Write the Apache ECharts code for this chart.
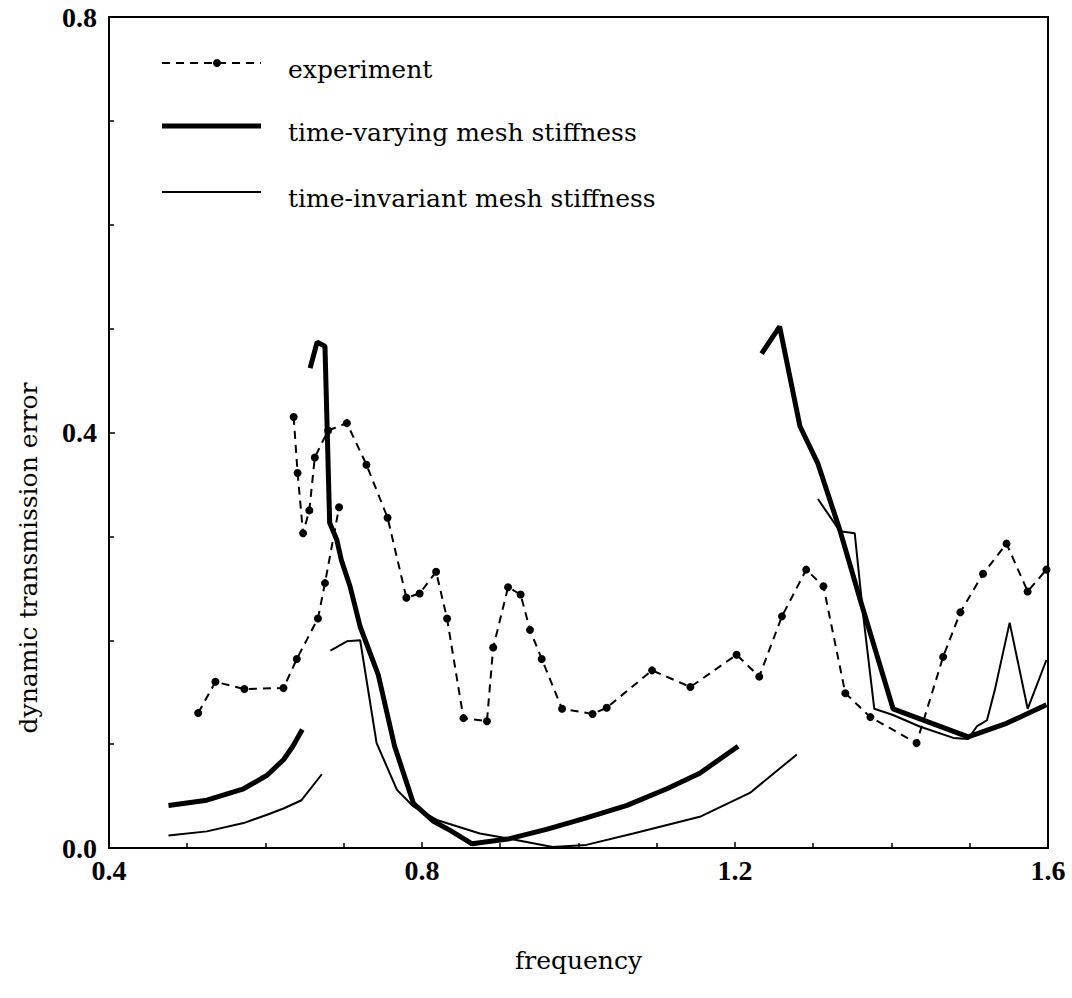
<!DOCTYPE html>
<html>
<head>
<meta charset="utf-8">
<script src="https://cdn.jsdelivr.net/npm/echarts@6/dist/echarts.min.js"></script>
<style>
html,body{margin:0;padding:0;background:#fff;}
#chart{width:1072px;height:998px;}
</style>
</head>
<body>
<div id="chart"></div>
<script>
// ---- data ----
const xTicks = [0.4, 0.8, 1.2, 1.6];
const yTicks = [0.0, 0.4, 0.8];

// experiment: lower sweep branch
const expLowX = [0.514, 0.536, 0.573, 0.623, 0.640, 0.667, 0.676, 0.694];
const expLowY = [0.130, 0.160, 0.153, 0.154, 0.182, 0.221, 0.255, 0.328];
// experiment: upper branch
const expHighX = [0.636, 0.641, 0.648, 0.656, 0.663, 0.680, 0.704, 0.729, 0.756, 0.780, 0.797, 0.818, 0.832,
  0.853, 0.883, 0.891, 0.910, 0.926, 0.938, 0.953, 0.979, 1.018, 1.036, 1.094, 1.143, 1.202, 1.231,
  1.260, 1.291, 1.313, 1.341, 1.373, 1.432, 1.466, 1.488, 1.517, 1.547, 1.574, 1.598];
const expHighY = [0.415, 0.361, 0.303, 0.325, 0.376, 0.402, 0.409, 0.369, 0.318, 0.241, 0.245, 0.266, 0.221,
  0.125, 0.122, 0.193, 0.251, 0.244, 0.210, 0.182, 0.134, 0.129, 0.135, 0.171, 0.155, 0.186, 0.165,
  0.223, 0.268, 0.252, 0.149, 0.126, 0.101, 0.184, 0.227, 0.264, 0.293, 0.247, 0.268];

// time-varying mesh stiffness (thick)
const tvX1 = [0.476, 0.525, 0.572, 0.602, 0.623, 0.635, 0.647];
const tvY1 = [0.041, 0.046, 0.057, 0.070, 0.085, 0.098, 0.114];
const tvX2 = [0.657, 0.666, 0.676, 0.682, 0.691, 0.697, 0.708, 0.721, 0.744, 0.765, 0.789, 0.814, 0.836,
  0.864, 0.912, 0.959, 1.010, 1.062, 1.113, 1.155, 1.204];
const tvY2 = [0.462, 0.487, 0.483, 0.313, 0.297, 0.277, 0.252, 0.213, 0.167, 0.098, 0.043, 0.026, 0.017,
  0.004, 0.009, 0.018, 0.029, 0.041, 0.057, 0.072, 0.098];
const tvX3 = [1.234, 1.257, 1.283, 1.306, 1.334, 1.360, 1.402, 1.498, 1.547, 1.598];
const tvY3 = [0.476, 0.502, 0.406, 0.370, 0.306, 0.239, 0.134, 0.107, 0.120, 0.138];

// time-invariant mesh stiffness (thin)
const tiX1 = [0.476, 0.525, 0.572, 0.602, 0.623, 0.646, 0.672];
const tiY1 = [0.012, 0.016, 0.024, 0.032, 0.038, 0.046, 0.071];
const tiX2 = [0.683, 0.704, 0.721, 0.742, 0.768, 0.789, 0.819, 0.874, 0.912, 0.967, 1.010, 1.070, 1.155, 1.219, 1.279];
const tiY2 = [0.190, 0.199, 0.200, 0.101, 0.056, 0.040, 0.027, 0.014, 0.009, 0.001, 0.003, 0.014, 0.030, 0.053, 0.090];
const tiX3 = [1.306, 1.334, 1.353, 1.364, 1.378, 1.402, 1.436, 1.479, 1.498, 1.509, 1.522, 1.532, 1.551, 1.574, 1.598];
const tiY3 = [0.336, 0.305, 0.303, 0.223, 0.134, 0.128, 0.117, 0.106, 0.105, 0.117, 0.123, 0.152, 0.217, 0.134, 0.181];

const names = ['experiment', 'time-varying mesh stiffness', 'time-invariant mesh stiffness'];

function pairs(xs, ys) { return xs.map((x, i) => [x, ys[i]]); }

const serif = 'Liberation Serif';
const textSerif = 'DejaVu Serif';

const expLine = { color: '#000', width: 2, type: [8, 6] };
const tvLine = { color: '#000', width: 5 };
const tiLine = { color: '#000', width: 2 };

const expStyle = {
  type: 'line', name: names[0], symbol: 'circle', symbolSize: 8, showSymbol: true,
  lineStyle: expLine, itemStyle: { color: '#000' }, z: 3, animation: false
};
const tvStyle = {
  type: 'line', name: names[1], symbol: 'none',
  lineStyle: tvLine, itemStyle: { color: '#000' }, z: 4, animation: false
};
const tiStyle = {
  type: 'line', name: names[2], symbol: 'none',
  lineStyle: tiLine, itemStyle: { color: '#000' }, z: 2, animation: false
};

// legend drawn by hand (key line + label per row)
const legendRows = [
  { y: 63, line: expLine, dot: true },
  { y: 126, line: tvLine, dot: false },
  { y: 192, line: tiLine, dot: false }
];
const legendGraphics = [];
legendRows.forEach((r, i) => {
  legendGraphics.push({
    type: 'line', shape: { x1: 162, y1: r.y, x2: 261, y2: r.y },
    style: { stroke: r.line.color, lineWidth: r.line.width, lineDash: Array.isArray(r.line.type) ? r.line.type : null }
  });
  if (r.dot) legendGraphics.push({ type: 'circle', shape: { cx: 217, cy: r.y, r: 4 }, style: { fill: '#000' } });
  legendGraphics.push({
    type: 'text', x: 288, y: r.y + 6,
    style: { text: names[i], fontSize: 25, fontFamily: textSerif, fill: '#000', align: 'left', verticalAlign: 'middle' }
  });
});

const chart = echarts.init(document.getElementById('chart'), null, { renderer: 'svg' });
chart.setOption({
  backgroundColor: '#fff',
  animation: false,
  grid: { left: 109, right: 24, top: 17, bottom: 150, show: true, borderColor: '#000', borderWidth: 2, backgroundColor: 'transparent' },
  xAxis: {
    type: 'value', min: xTicks[0], max: xTicks[xTicks.length - 1], interval: 0.4,
    name: 'frequency', nameLocation: 'middle', nameGap: 100,
    nameTextStyle: { fontSize: 25, fontFamily: textSerif, color: '#000' },
    axisLine: { lineStyle: { color: '#000', width: 2 } },
    axisTick: { inside: true, length: 6, lineStyle: { color: '#000', width: 1.5 } },
    minorTick: { show: true, splitNumber: 4, length: 5, lineStyle: { color: '#000', width: 1.5 } },
    splitLine: { show: false },
    axisLabel: { formatter: v => v.toFixed(1), fontSize: 28, fontWeight: 'bold', fontFamily: serif, color: '#000', margin: 8 }
  },
  yAxis: {
    type: 'value', min: yTicks[0], max: yTicks[yTicks.length - 1], interval: 0.4,
    axisLine: { lineStyle: { color: '#000', width: 2 } },
    axisTick: { inside: true, length: 6, lineStyle: { color: '#000', width: 1.5 } },
    minorTick: { show: true, splitNumber: 4, length: 5, lineStyle: { color: '#000', width: 1.5 } },
    splitLine: { show: false },
    axisLabel: { formatter: v => v.toFixed(1), fontSize: 28, fontWeight: 'bold', fontFamily: serif, color: '#000', margin: 12 }
  },
  graphic: [{
    type: 'text', x: 28, y: 558, rotation: Math.PI / 2,
    style: { text: 'dynamic transmission error', fontSize: 25, fontFamily: textSerif, fill: '#000', align: 'center', verticalAlign: 'middle' }
  }].concat(legendGraphics),
  series: [
    Object.assign({ data: pairs(expLowX, expLowY) }, expStyle),
    Object.assign({ data: pairs(expHighX, expHighY) }, expStyle),
    Object.assign({ data: pairs(tvX1, tvY1) }, tvStyle),
    Object.assign({ data: pairs(tvX2, tvY2) }, tvStyle),
    Object.assign({ data: pairs(tvX3, tvY3) }, tvStyle),
    Object.assign({ data: pairs(tiX1, tiY1) }, tiStyle),
    Object.assign({ data: pairs(tiX2, tiY2) }, tiStyle),
    Object.assign({ data: pairs(tiX3, tiY3) }, tiStyle)
  ]
});
</script>
</body>
</html>
